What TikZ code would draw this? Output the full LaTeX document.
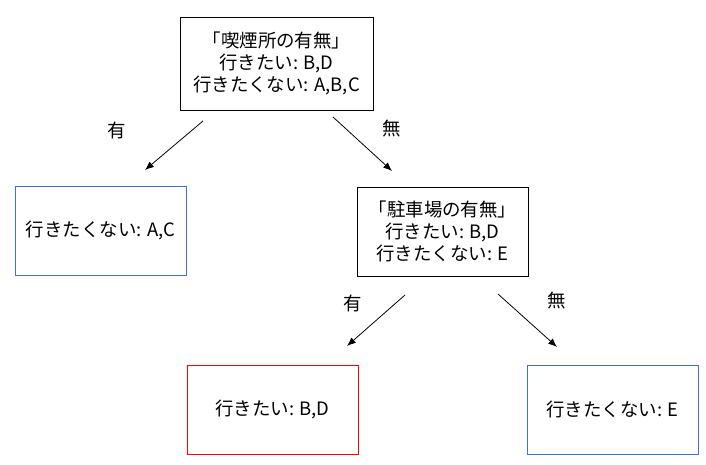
\documentclass[tikz,border=0pt]{standalone}
\usepackage{fontspec}
\setmainfont{Noto Sans CJK JP}
\usetikzlibrary{arrows.meta, positioning}
\definecolor{BL}{RGB}{68,114,196}
\definecolor{RD}{RGB}{255,0,0}
\definecolor{DG}{RGB}{0,0,0}

\begin{document}
\begin{tikzpicture}[x=0.02cm, y=-0.02cm,
  qbox/.style={draw=DG, line width=0.5pt, align=center,
               minimum width=3.42cm, minimum height=1.78cm,
               font=\fontsize{10.5}{12.6}\selectfont, inner sep=0pt},
  leafno/.style={qbox, draw=BL},
  leafyes/.style={qbox, draw=RD},
  edge/.style={-{Latex[length=5pt,width=4pt]}, line width=0.45pt},
  elbl/.style={font=\fontsize{10.5}{12.6}\selectfont}
]
\useasboundingbox (0,0) rectangle (706,465);

% Questions
\node[qbox, minimum width=3.86cm, minimum height=1.86cm] (smoke) at (276.5,63.5)
  {「喫煙所の有無」\\行きたい: B,D\\行きたくない: A,B,C};
\node[qbox] (park) at (442.5,231.5)
  {「駐車場の有無」\\行きたい: B,D\\行きたくない: E};

% Leaves
\node[leafno] (noAC) at (100.5,230.5) {行きたくない: A,C};
\node[leafyes] (yesBD) at (272.5,409.5) {行きたい: B,D};
\node[leafno] (noE) at (612.5,409.5) {行きたくない: E};

% Arrow ends
\coordinate (s1) at (203,121); \coordinate (t1) at (145,170);
\coordinate (s2) at (333,117); \coordinate (t2) at (392,171);
\coordinate (s3) at (405,295); \coordinate (t3) at (347,346);
\coordinate (s4) at (498,294); \coordinate (t4) at (557,347);

\draw[edge] (s1) -- (t1);
\draw[edge] (s2) -- (t2);
\draw[edge] (s3) -- (t3);
\draw[edge] (s4) -- (t4);

% Edge labels
\node[elbl] (l1) at (117,130) {有};
\node[elbl] (l2) at (392,129) {無};
\node[elbl] (l3) at (353,303) {有};
\node[elbl] (l4) at (557,301) {無};
\end{tikzpicture}
\end{document}
